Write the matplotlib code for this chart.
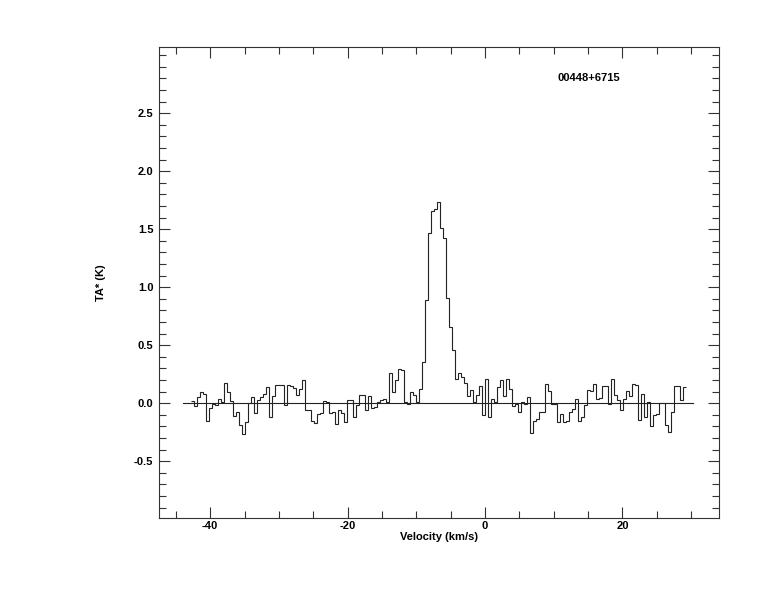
import numpy as np
import matplotlib
matplotlib.use("Agg")
import matplotlib.pyplot as plt
from matplotlib.ticker import MultipleLocator

# ---- data ----
source_name = "00448+6715"
v_first_edge = -42.75       # km/s, left edge of first channel
channel_width = 0.4367      # km/s
ta_values = [
    0.017, -0.025, 0.05, 0.10, 0.08, -0.15, -0.045, -0.01, -0.02, 0.033,
    0.01, 0.17, 0.10, 0.015, -0.11, -0.08, -0.19, -0.27, -0.16, 0.0,
    0.05, -0.086, 0.023, 0.05, 0.078, 0.14, -0.12, 0.06, 0.16, 0.155,
    0.155, -0.02, 0.16, 0.15, 0.13, 0.07, 0.12, 0.20, -0.06, -0.055,
    -0.155, -0.175, -0.09, -0.083, 0.015, 0.01, -0.083, -0.075, -0.18, -0.055,
    -0.083, -0.164, 0.03, 0.026, -0.12, -0.017, 0.066, 0.066, -0.06, 0.06,
    -0.046, -0.03, 0.011, 0.023, 0.037, 0.009, 0.256, 0.10, 0.20, 0.296,
    0.287, 0.006, -0.006, 0.095, 0.07, 0.006, 0.118, 0.356, 0.888, 1.463,
    1.658, 1.672, 1.73, 1.506, 1.42, 0.91, 0.656, 0.46, 0.205, 0.262,
    0.225, 0.178, 0.058, 0.115, 0.008, 0.07, 0.152, -0.10, 0.204, -0.12,
    0.033, 0.013, 0.142, 0.20, 0.058, 0.204, 0.126, -0.023, -0.01, -0.08,
    0.008, -0.01, 0.05, -0.253, -0.15, -0.14, -0.073, -0.073, 0.162, 0.105,
    -0.006, -0.008, -0.165, -0.097, -0.165, -0.158, -0.08, -0.052, 0.04, -0.155,
    -0.116, -0.018, 0.111, 0.105, 0.162, 0.04, 0.045, 0.152, 0.147, -0.01,
    0.204, 0.07, 0.026, -0.062, 0.04, 0.103, 0.06, 0.162, 0.155, -0.148,
    0.075, -0.116, 0.006, -0.199, -0.102, -0.096, -0.003, 0.0, -0.192, -0.245,
    -0.073, 0.152, 0.147, 0.03, 0.138,
]
baseline_x = [-43.9, 30.3]

x_major = [-40, -20, 0, 20]
y_major = [-0.5, 0.0, 0.5, 1.0, 1.5, 2.0, 2.5]
xlim = (-47.45, 34.06)
ylim = (-0.99, 3.07)

# ---- figure ----
fig = plt.figure(figsize=(7.74, 6.12), dpi=100)
ax = fig.add_axes([159/774, 1 - 518/612, (719 - 159)/774, (518 - 47)/612])

edges = v_first_edge + channel_width * np.arange(len(ta_values) + 1)
ax.plot(baseline_x, [0, 0], color="#222222", lw=0.8)
ax.stairs(ta_values, edges, baseline=None, color="#222222", lw=0.8)

ax.set_xlim(*xlim)
ax.set_ylim(*ylim)
ax.set_xticks(x_major)
ax.set_yticks(y_major)
ax.xaxis.set_minor_locator(MultipleLocator(5))
ax.yaxis.set_minor_locator(MultipleLocator(0.1))
ax.set_xticklabels([f"{v:d}" for v in x_major])
ax.set_yticklabels([f"{v:.1f}" for v in y_major])

fam = "Liberation Sans"
fs = 8
for lab in ax.get_xticklabels() + ax.get_yticklabels():
    lab.set_fontfamily(fam)
    lab.set_fontweight("bold")
    lab.set_fontsize(fs)

ax.tick_params(which="both", direction="in", top=True, right=True,
               color="#333333", width=0.8)
ax.tick_params(which="major", length=8)
ax.tick_params(axis="x", which="major", pad=2)
ax.tick_params(axis="y", which="major", pad=4)
ax.tick_params(which="minor", length=5)
for s in ax.spines.values():
    s.set_linewidth(0.8)
    s.set_color("#333333")

ax.set_xlabel("Velocity (km/s)", fontfamily=fam, fontweight="bold",
              fontsize=fs, labelpad=1)
ax.set_ylabel("TA* (K)", fontfamily=fam, fontweight="bold",
              fontsize=fs, labelpad=20)
ax.text(0.711, 0.935, source_name, transform=ax.transAxes, fontfamily=fam,
        fontweight="bold", fontsize=fs, ha="left", va="center")

fig.savefig("out.png", dpi=100)
